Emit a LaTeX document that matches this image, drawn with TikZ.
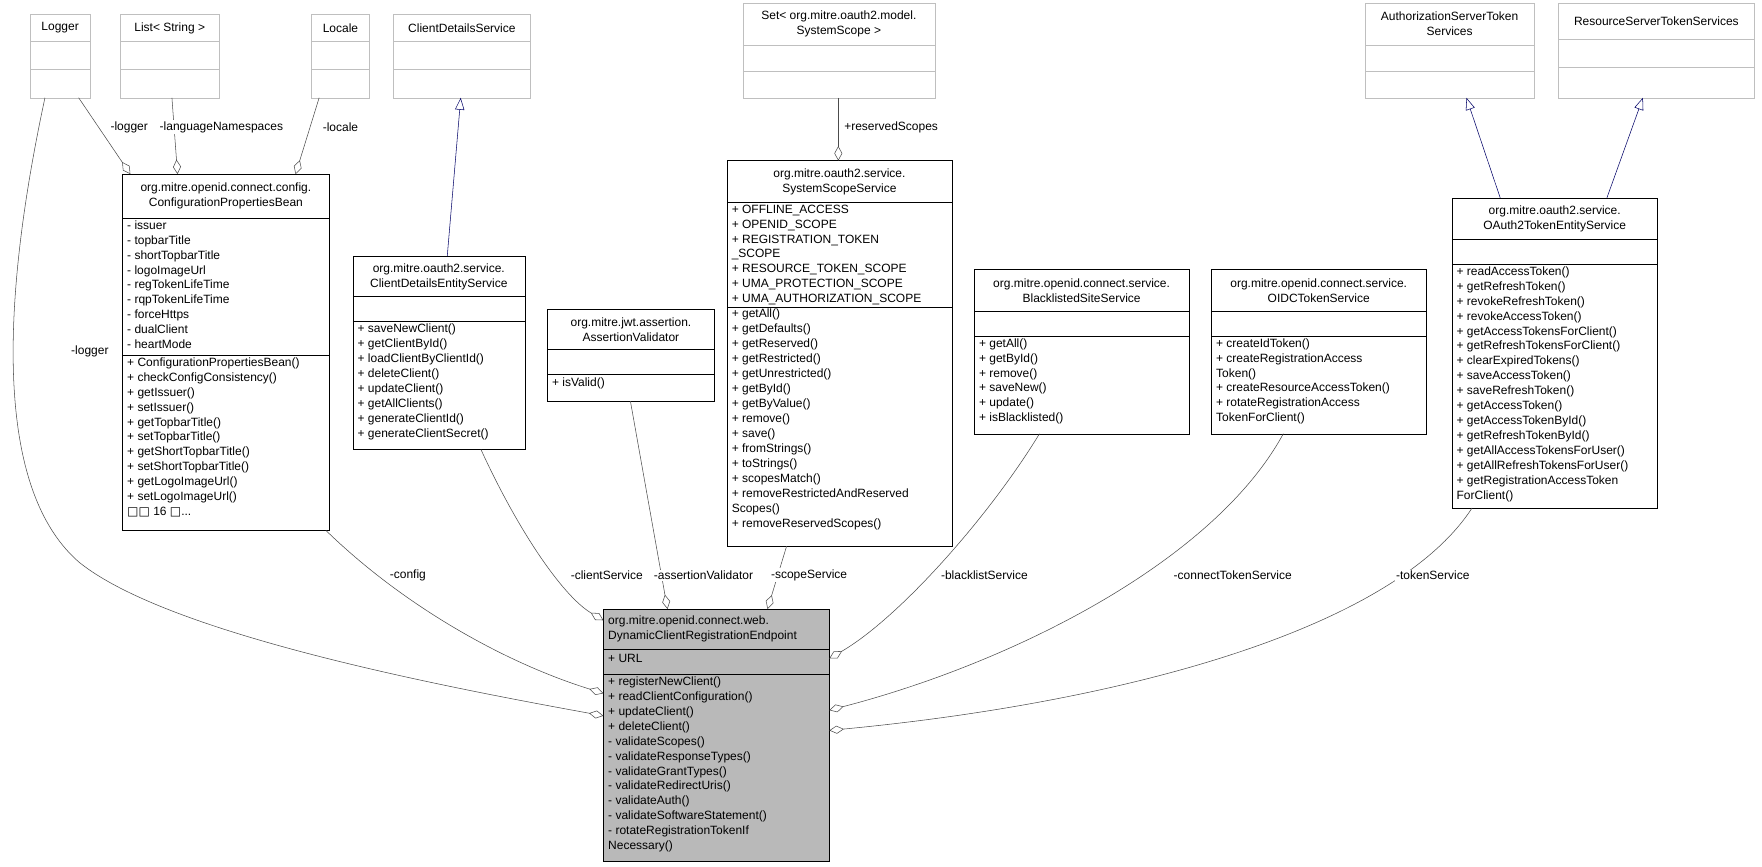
\documentclass[tikz,border=0pt]{standalone}
\usepackage{fontspec}
\setmainfont{Liberation Sans}
\usetikzlibrary{arrows.meta}
\begin{document}
\begin{tikzpicture}[x=0.843pt,y=-0.843pt,
  txt/.style={inner sep=0pt,font=\fontsize{9}{11.2}\selectfont,align=left,anchor=north west},
  ttl/.style={inner sep=0pt,font=\fontsize{9}{11.2}\selectfont,align=center},
  lbl/.style={inner sep=1pt,font=\fontsize{9}{11.2}\selectfont,fill=white},
  assoc/.style={draw=black!70,-{Diamond[open,length=11pt,width=6pt]}},
  inh/.style={draw=blue!40!black,-{Triangle[open,length=9pt,width=7pt]}}]
\useasboundingbox (0,0) rectangle (1568,771);
\newcommand\clsbox[8]{%
  \draw[#8] (#2,#3) rectangle (#4,#5);
  \draw[#8] (#2,#6) -- (#4,#6); \draw[#8] (#2,#7) -- (#4,#7);
  \coordinate (#1) at ({(#2+#4)/2},{(#3+#5)/2});}
% gray top boxes
\clsbox{lg}{27}{13}{80}{87}{37}{62}{gray!50}
\node[ttl] (lgt) at (53.5,25) {Logger};
\clsbox{ls}{107}{13}{195}{87}{37}{62}{gray!50}
\node[ttl] (lst) at (151,25) {List< String >};
\clsbox{lc}{277}{13}{329}{87}{37}{62}{gray!50}
\node[ttl] (lct) at (303,25) {Locale};
\clsbox{cds}{350}{13}{472}{87}{37}{62}{gray!50}
\node[ttl] (cdst) at (411,25) {ClientDetailsService};
\clsbox{set}{661}{3}{832}{87}{40}{63}{gray!50}
\node[ttl] (sett) at (746.5,21.5) {Set< org.mitre.oauth2.model.\\SystemScope >};
\clsbox{ast}{1215}{3}{1365}{87}{40}{63}{gray!50}
\node[ttl] (astt) at (1290,21.5) {AuthorizationServerToken\\Services};
\clsbox{rst}{1387}{3}{1561}{87}{35}{60}{gray!50}
\node[ttl] (rstt) at (1474,19) {ResourceServerTokenServices};
% black boxes
\clsbox{cb}{109}{155}{293}{472}{194}{316}{black}
\node[ttl] at (201,174.5) {org.mitre.openid.connect.config.\\ConfigurationPropertiesBean};
\node[txt] at (113,196) {- issuer\\- topbarTitle\\- shortTopbarTitle\\- logoImageUrl\\- regTokenLifeTime\\- rqpTokenLifeTime\\- forceHttps\\- dualClient\\- heartMode};
\node[txt] at (113,318) {+ ConfigurationPropertiesBean()\\+ checkConfigConsistency()\\+ getIssuer()\\+ setIssuer()\\+ getTopbarTitle()\\+ setTopbarTitle()\\+ getShortTopbarTitle()\\+ setShortTopbarTitle()\\+ getLogoImageUrl()\\+ setLogoImageUrl()\\{\fontspec{DejaVu Sans}\symbol{"25A1}\symbol{"25A1}} 16 {\fontspec{DejaVu Sans}\symbol{"25A1}}...};
\clsbox{cdes}{314}{228}{467}{400}{264}{286}{black}
\node[ttl] at (390.5,246) {org.mitre.oauth2.service.\\ClientDetailsEntityService};
\node[txt] at (318,288) {+ saveNewClient()\\+ getClientById()\\+ loadClientByClientId()\\+ deleteClient()\\+ updateClient()\\+ getAllClients()\\+ generateClientId()\\+ generateClientSecret()};
\clsbox{av}{487}{275}{636}{357}{311}{333}{black}
\node[ttl] at (561.5,293) {org.mitre.jwt.assertion.\\AssertionValidator};
\node[txt] at (491,336) {+ isValid()};
\clsbox{sss}{647}{143}{847}{486}{180}{273}{black}
\node[ttl] at (747,161.5) {org.mitre.oauth2.service.\\SystemScopeService};
\node[txt] at (651,182) {+ OFFLINE\_ACCESS\\+ OPENID\_SCOPE\\+ REGISTRATION\_TOKEN\\\_SCOPE\\+ RESOURCE\_TOKEN\_SCOPE\\+ UMA\_PROTECTION\_SCOPE\\+ UMA\_AUTHORIZATION\_SCOPE};
\node[txt] at (651,275) {+ getAll()\\+ getDefaults()\\+ getReserved()\\+ getRestricted()\\+ getUnrestricted()\\+ getById()\\+ getByValue()\\+ remove()\\+ save()\\+ fromStrings()\\+ toStrings()\\+ scopesMatch()\\+ removeRestrictedAndReserved\\Scopes()\\+ removeReservedScopes()};
\clsbox{bss}{867}{240}{1058}{386}{277}{299}{black}
\node[ttl] at (962.5,258.5) {org.mitre.openid.connect.service.\\BlacklistedSiteService};
\node[txt] at (871,301) {+ getAll()\\+ getById()\\+ remove()\\+ saveNew()\\+ update()\\+ isBlacklisted()};
\clsbox{oidc}{1078}{240}{1269}{386}{277}{299}{black}
\node[ttl] at (1173.5,258.5) {org.mitre.openid.connect.service.\\OIDCTokenService};
\node[txt] at (1082,301) {+ createIdToken()\\+ createRegistrationAccess\\Token()\\+ createResourceAccessToken()\\+ rotateRegistrationAccess\\TokenForClient()};
\clsbox{ote}{1292}{176}{1475}{452}{213}{235}{black}
\node[ttl] at (1383.5,194.5) {org.mitre.oauth2.service.\\OAuth2TokenEntityService};
\node[txt] at (1296,237) {+ readAccessToken()\\+ getRefreshToken()\\+ revokeRefreshToken()\\+ revokeAccessToken()\\+ getAccessTokensForClient()\\+ getRefreshTokensForClient()\\+ clearExpiredTokens()\\+ saveAccessToken()\\+ saveRefreshToken()\\+ getAccessToken()\\+ getAccessTokenById()\\+ getRefreshTokenById()\\+ getAllAccessTokensForUser()\\+ getAllRefreshTokensForUser()\\+ getRegistrationAccessToken\\ForClient()};
\fill[gray!55] (537,542) rectangle (738,766);
\clsbox{dc}{537}{542}{738}{766}{578}{600}{black}
\node[ttl,align=left,anchor=west] at (541,560) {org.mitre.openid.connect.web.\\DynamicClientRegistrationEndpoint};
\node[txt] at (541,582) {+ URL};
\node[txt] at (541,602) {+ registerNewClient()\\+ readClientConfiguration()\\+ updateClient()\\+ deleteClient()\\- validateScopes()\\- validateResponseTypes()\\- validateGrantTypes()\\- validateRedirectUris()\\- validateAuth()\\- validateSoftwareStatement()\\- rotateRegistrationTokenIf\\Necessary()};
% connectors
\draw[assoc] (70,87) -- (116,155);
\node[lbl] at (115,113) {-logger};
\draw[assoc] (153,87) -- (158,155);
\node[lbl] at (197,113) {-languageNamespaces};
\draw[assoc] (284,87) -- (263,155);
\node[lbl] at (303,113) {-locale};
\draw[inh] (398,228) -- (410,87);
\draw[assoc] (746,87) -- (746,143);
\node[lbl] at (793,113) {+reservedScopes};
\draw[inh] (1335,176) -- (1305,87);
\draw[inh] (1430,176) -- (1462,87);
\draw[assoc] (40,87) .. controls (5,250) and (-10,430) .. (70,500) .. controls (150,565) and (400,612) .. (537,637);
\node[lbl] at (80,313) {-logger};
\draw[assoc] (290,472) .. controls (360,540) and (450,590) .. (537,617);
\node[lbl] at (363,512) {-config};
\draw[assoc] (428,400) .. controls (460,470) and (500,530) .. (537,552);
\node[lbl] at (540,512) {-clientService};
\draw[assoc] (561,357) -- (594,542);
\node[lbl] at (626,512) {-assertionValidator};
\draw[assoc] (700,486) -- (683,542);
\node[lbl] at (720,512) {-scopeService};
\draw[assoc] (925,386) .. controls (880,460) and (800,550) .. (738,586);
\node[lbl] at (876,512) {-blacklistService};
\draw[assoc] (1142,386) .. controls (1080,500) and (900,590) .. (738,632);
\node[lbl] at (1097,512) {-connectTokenService};
\draw[assoc] (1310,452) .. controls (1240,560) and (1000,625) .. (738,650);
\node[lbl] at (1275,512) {-tokenService};
\end{tikzpicture}
\end{document}
